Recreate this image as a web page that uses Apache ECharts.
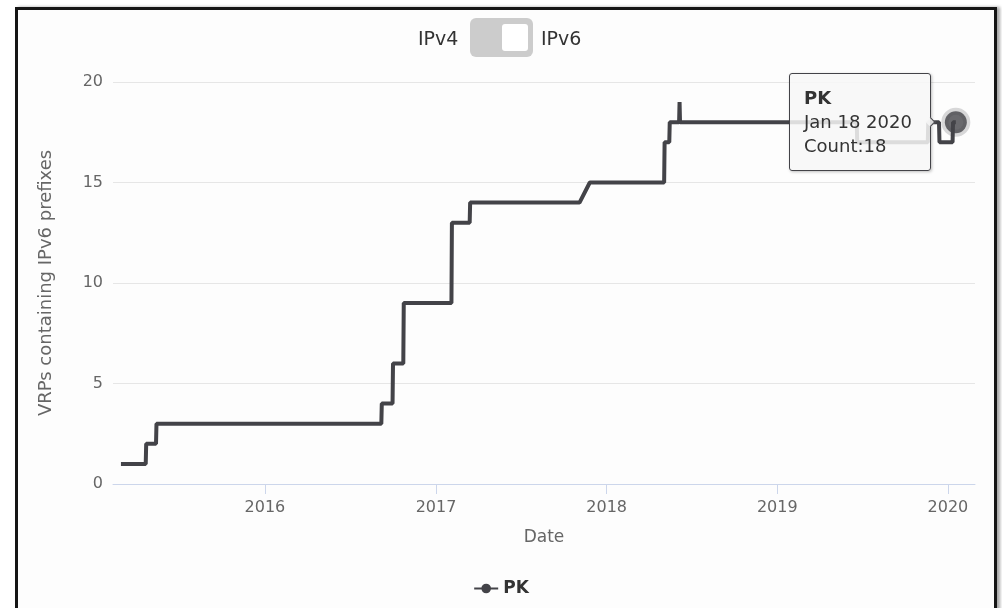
<!DOCTYPE html>
<html>
<head>
<meta charset="utf-8">
<script src="https://cdn.jsdelivr.net/npm/echarts@6/dist/echarts.min.js"></script>
<style>
  html, body { margin: 0; padding: 0; background: #fff; }
  #frame {
    position: absolute; left: 15px; top: 7px; width: 976px; height: 640px;
    border: 3px solid #151515; border-bottom: none;
    box-shadow: 3px 0 3px rgba(0,0,0,0.35);
    background: #fdfdfd;
  }
  #chart { position: absolute; left: 0; top: 0; width: 1002px; height: 608px; }
</style>
</head>
<body>
<div id="frame"></div>
<div id="chart"></div>
<script>
// daily VRP counts, PK, IPv6
var dates = [
  '2015-02-27', '2015-04-21', '2015-04-22', '2015-05-13', '2015-05-14',
  '2016-09-06', '2016-09-07', '2016-09-30', '2016-10-01', '2016-10-23', '2016-10-24',
  '2017-02-03', '2017-02-04', '2017-03-14', '2017-03-15',
  '2017-11-04', '2017-11-26',
  '2018-05-04', '2018-05-05', '2018-05-15', '2018-05-16', '2018-06-05', '2018-06-06', '2018-06-07',
  '2019-06-20', '2019-06-21', '2019-11-19', '2019-11-20', '2019-12-13', '2019-12-14',
  '2020-01-11', '2020-01-12', '2020-01-18'
]
var counts = [
  1, 1, 2, 2, 3,
  3, 4, 4, 6, 6, 9,
  9, 13, 13, 14,
  14, 15,
  15, 17, 17, 18, 18, 19, 18,
  18, 17, 17, 18, 18, 17,
  17, 18, 18
]
var seriesName = 'PK'
var yTicks = [0, 5, 10, 15, 20]
var monthNames = ['Jan', 'Feb', 'Mar', 'Apr', 'May', 'Jun', 'Jul', 'Aug', 'Sep', 'Oct', 'Nov', 'Dec']

var font = 'DejaVu Sans'
var lineColor = '#434348'
var last = dates.length - 1

var chart = echarts.init(document.getElementById('chart'))

chart.setOption({
  animation: false,
  backgroundColor: 'transparent',
  textStyle: { fontFamily: font },
  grid: { left: 113, right: 27, top: 82, bottom: 124 },
  graphic: [
    { type: 'text', left: 418, top: 31, style: { text: 'IPv4', font: '19px ' + font, fill: '#333' } },
    { type: 'rect', left: 470, top: 18, shape: { width: 63, height: 39, r: 6 }, style: { fill: '#cccccc' } },
    { type: 'rect', left: 502, top: 24, shape: { width: 26, height: 27, r: 3 }, style: { fill: '#ffffff' } },
    { type: 'text', left: 541, top: 31, style: { text: 'IPv6', font: '19px ' + font, fill: '#333' } }
  ],
  legend: {
    data: [seriesName],
    bottom: 6,
    left: 'center',
    itemWidth: 24,
    itemHeight: 12,
    textStyle: { fontSize: 17, fontWeight: 'bold', color: '#333', fontFamily: font }
  },
  tooltip: {
    trigger: 'item',
    triggerOn: 'none',
    alwaysShowContent: true,
    position: 'left',
    backgroundColor: 'rgba(247,247,247,0.85)',
    borderColor: lineColor,
    borderWidth: 1,
    padding: [12, 18, 12, 14],
    textStyle: { color: '#333', fontSize: 18, fontFamily: font },
    extraCssText: 'border-radius:3px;box-shadow:1px 1px 3px rgba(0,0,0,0.25);line-height:24px;',
    formatter: function (p) {
      var d = new Date(p.value[0])
      var txt = monthNames[d.getMonth()] + ' ' + d.getDate() + ' ' + d.getFullYear()
      return '<b>' + p.seriesName + '</b><br>' + txt + '<br>Count:' + p.value[1]
    }
  },
  xAxis: {
    type: 'time',
    min: '2015-02-10',
    max: '2020-02-28',
    minInterval: 365 * 24 * 3600 * 1000,
    maxInterval: 366 * 24 * 3600 * 1000,
    name: 'Date',
    nameLocation: 'middle',
    nameGap: 45,
    nameTextStyle: { fontSize: 17, color: '#666', fontFamily: font },
    axisLine: { lineStyle: { color: '#ccd6eb', width: 1 } },
    axisTick: { show: true, length: 10, lineStyle: { color: '#ccd6eb' } },
    axisLabel: {
      fontSize: 16, color: '#666', margin: 16, fontFamily: font,
      formatter: '{yyyy}', showMinLabel: false, showMaxLabel: false
    },
    splitLine: { show: false }
  },
  yAxis: {
    type: 'value',
    min: yTicks[0],
    max: yTicks[yTicks.length - 1],
    interval: yTicks[1] - yTicks[0],
    name: 'VRPs containing IPv6 prefixes',
    nameLocation: 'middle',
    nameGap: 58,
    nameTextStyle: { fontSize: 18, color: '#666', fontFamily: font },
    axisLine: { show: false },
    axisTick: { show: false },
    axisLabel: { fontSize: 16, color: '#666', margin: 10, fontFamily: font },
    splitLine: { lineStyle: { color: '#e6e6e6' } }
  },
  series: [
    {
      name: seriesName,
      type: 'line',
      data: dates.map(function (d, i) { return [d, counts[i]] }),
      showSymbol: false,
      symbol: 'circle',
      symbolSize: 11,
      lineStyle: { width: 4, color: lineColor },
      itemStyle: { color: lineColor },
      z: 2
    },
    {
      name: seriesName,
      type: 'scatter',
      data: [[dates[last], counts[last]]],
      symbolSize: 22,
      itemStyle: { color: lineColor, borderColor: 'rgba(67,67,72,0.25)', borderWidth: 7 },
      z: 5
    }
  ]
})

chart.dispatchAction({ type: 'showTip', seriesIndex: 1, dataIndex: 0 })
</script>
</body>
</html>
